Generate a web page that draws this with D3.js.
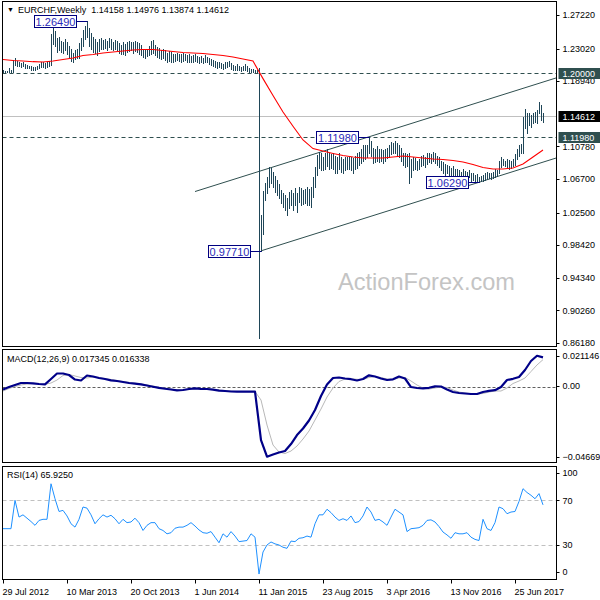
<!DOCTYPE html>
<html>
<head>
<meta charset="utf-8">
<script src="https://cdnjs.cloudflare.com/ajax/libs/d3/7.8.5/d3.min.js"></script>
<style>
  body { margin: 0; background: #fff; }
  svg { display: block; }
  text { font-family: "Liberation Sans", Arial, sans-serif; font-size: 9px; fill: #000; }
</style>
</head>
<body>
<script>
'use strict';

// weekly bars, index 0 = week of 29 Jul 2012
const tickBars = [0, 32, 64, 96, 128, 160, 192, 224, 256];
const tickLabels = ["29 Jul 2012", "10 Mar 2013", "20 Oct 2013", "1 Jun 2014", "11 Jan 2015",
  "23 Aug 2015", "3 Apr 2016", "13 Nov 2016", "25 Jun 2017"];

const highs = [
  1.2030, 1.2020, 1.2025, 1.2060, 1.2030, 1.2160, 1.2180, 1.2150, 1.2140, 1.2120,
  1.2130, 1.2110, 1.2100, 1.2090, 1.2080, 1.2070, 1.2075, 1.2090, 1.2110, 1.2135,
  1.2130, 1.2120, 1.2140, 1.2150, 1.2480, 1.2570, 1.2520, 1.2440, 1.2450, 1.2400,
  1.2380, 1.2420, 1.2390, 1.2330, 1.2300, 1.2250, 1.2290, 1.2300, 1.2370, 1.2440,
  1.2540, 1.2590, 1.2649, 1.2560, 1.2500, 1.2450, 1.2420, 1.2380, 1.2420, 1.2430,
  1.2410, 1.2420, 1.2400, 1.2430, 1.2420, 1.2390, 1.2410, 1.2400, 1.2370, 1.2350,
  1.2380, 1.2360, 1.2390, 1.2400, 1.2390, 1.2380, 1.2400, 1.2390, 1.2370, 1.2350,
  1.2300, 1.2280, 1.2300, 1.2330, 1.2400, 1.2410, 1.2350, 1.2320, 1.2310, 1.2290,
  1.2300, 1.2280, 1.2250, 1.2270, 1.2260, 1.2240, 1.2230, 1.2250, 1.2240, 1.2230,
  1.2250, 1.2240, 1.2220, 1.2230, 1.2210, 1.2220, 1.2230, 1.2210, 1.2200, 1.2210,
  1.2190, 1.2220, 1.2200, 1.2180, 1.2170, 1.2160, 1.2150, 1.2140, 1.2130, 1.2120,
  1.2110, 1.2130, 1.2140, 1.2150, 1.2120, 1.2100, 1.2090, 1.2110, 1.2080, 1.2070,
  1.2090, 1.2110, 1.2080, 1.2060, 1.2050, 1.2045, 1.2040, 1.2035, 1.2060, 1.0220,
  1.0520, 1.0620, 1.0700, 1.0826, 1.0810, 1.0760, 1.0710, 1.0660, 1.0610, 1.0530,
  1.0495, 1.0470, 1.0430, 1.0510, 1.0530, 1.0495, 1.0560, 1.0495, 1.0570, 1.0555,
  1.0530, 1.0550, 1.0570, 1.0545, 1.0570, 1.0700, 1.0820, 1.0970, 1.1010, 1.0995,
  1.0950, 1.0990, 1.1040, 1.1000, 1.0980, 1.1000, 1.0960, 1.0950, 1.0990, 1.0940,
  1.0920, 1.0950, 1.0940, 1.0960, 1.0940, 1.0930, 1.0960, 1.0990, 1.1010, 1.1040,
  1.1100, 1.1090, 1.1100, 1.1198, 1.1150, 1.1060, 1.1050, 1.1080, 1.1050, 1.1040,
  1.1030, 1.1040, 1.1060, 1.1090, 1.1130, 1.1120, 1.1140, 1.1120, 1.1100, 1.1060,
  1.1000, 1.0990, 1.0980, 1.1000, 1.0920, 1.0950, 1.0930, 1.0900, 1.0920, 1.0960,
  1.0970, 1.0950, 1.0990, 1.1000, 1.0980, 1.1010, 1.0990, 1.0960, 1.0940, 1.0900,
  1.0880, 1.0860, 1.0850, 1.0830, 1.0810, 1.0830, 1.0800, 1.0790, 1.0780, 1.0760,
  1.0790, 1.0770, 1.0760, 1.0780, 1.0750, 1.0740, 1.0720, 1.0730, 1.0700, 1.0710,
  1.0720, 1.0740, 1.0760, 1.0750, 1.0740, 1.0760, 1.0800, 1.0780, 1.0900, 1.0940,
  1.0920, 1.0900, 1.0920, 1.0910, 1.0890, 1.0920, 1.0980, 1.1050, 1.1100, 1.1110,
  1.1450, 1.1550, 1.1500, 1.1496, 1.1471, 1.1496, 1.1508, 1.1533, 1.1637, 1.1596, 1.1498
];

const lows = [
  1.2006, 1.2006, 1.2008, 1.2010, 1.2008, 1.2010, 1.2100, 1.2080, 1.2090, 1.2070,
  1.2080, 1.2065, 1.2060, 1.2055, 1.2040, 1.2035, 1.2040, 1.2050, 1.2060, 1.2070,
  1.2075, 1.2065, 1.2075, 1.2085, 1.2100, 1.2360, 1.2330, 1.2260, 1.2280, 1.2260,
  1.2250, 1.2280, 1.2240, 1.2200, 1.2150, 1.2130, 1.2170, 1.2180, 1.2180, 1.2280,
  1.2330, 1.2420, 1.2450, 1.2340, 1.2300, 1.2260, 1.2250, 1.2220, 1.2270, 1.2300,
  1.2300, 1.2310, 1.2290, 1.2320, 1.2300, 1.2290, 1.2300, 1.2280, 1.2250, 1.2230,
  1.2240, 1.2220, 1.2260, 1.2270, 1.2280, 1.2250, 1.2270, 1.2260, 1.2240, 1.2220,
  1.2200, 1.2190, 1.2210, 1.2220, 1.2240, 1.2250, 1.2220, 1.2200, 1.2190, 1.2170,
  1.2180, 1.2160, 1.2140, 1.2150, 1.2140, 1.2140, 1.2150, 1.2160, 1.2150, 1.2140,
  1.2150, 1.2160, 1.2140, 1.2130, 1.2130, 1.2140, 1.2150, 1.2130, 1.2120, 1.2130,
  1.2120, 1.2140, 1.2130, 1.2110, 1.2100, 1.2090, 1.2070, 1.2060, 1.2070, 1.2060,
  1.2050, 1.2060, 1.2070, 1.2080, 1.2050, 1.2040, 1.2030, 1.2040, 1.2030, 1.2020,
  1.2030, 1.2040, 1.2020, 1.2012, 1.2010, 1.2008, 1.2006, 1.2005, 0.8680, 0.9771,
  0.9980, 1.0410, 1.0500, 1.0570, 1.0620, 1.0570, 1.0510, 1.0470, 1.0430, 1.0370,
  1.0320, 1.0280, 1.0220, 1.0310, 1.0345, 1.0280, 1.0345, 1.0255, 1.0380, 1.0345,
  1.0355, 1.0370, 1.0340, 1.0350, 1.0320, 1.0445, 1.0570, 1.0720, 1.0810, 1.0785,
  1.0785, 1.0800, 1.0830, 1.0790, 1.0810, 1.0790, 1.0740, 1.0750, 1.0790, 1.0760,
  1.0740, 1.0780, 1.0790, 1.0800, 1.0780, 1.0750, 1.0790, 1.0810, 1.0850, 1.0870,
  1.0900, 1.0920, 1.0950, 1.0990, 1.0960, 1.0870, 1.0880, 1.0900, 1.0880, 1.0900,
  1.0870, 1.0900, 1.0930, 1.0950, 1.0980, 1.1000, 1.0990, 1.0960, 1.0940, 1.0900,
  1.0840, 1.0820, 1.0830, 1.0625, 1.0700, 1.0780, 1.0800, 1.0780, 1.0800, 1.0830,
  1.0850, 1.0820, 1.0860, 1.0880, 1.0870, 1.0890, 1.0870, 1.0840, 1.0820, 1.0780,
  1.0740, 1.0720, 1.0740, 1.0710, 1.0700, 1.0720, 1.0680, 1.0650, 1.0680, 1.0700,
  1.0690, 1.0660, 1.0670, 1.0700, 1.0650, 1.0660, 1.0650, 1.0640, 1.0629, 1.0640,
  1.0650, 1.0660, 1.0670, 1.0680, 1.0670, 1.0680, 1.0700, 1.0710, 1.0740, 1.0820,
  1.0840, 1.0830, 1.0810, 1.0800, 1.0810, 1.0830, 1.0840, 1.0920, 1.0960, 1.0990,
  1.0990, 1.1310, 1.1250, 1.1346, 1.1321, 1.1371, 1.1383, 1.1371, 1.1496, 1.1408, 1.1387
];

// red moving average, read every 5 bars
const maStep = 5;
const maValues = [
  1.2165, 1.2153, 1.2147, 1.2138, 1.2134, 1.2146, 1.2165, 1.2184, 1.2215, 1.2228,
  1.2247, 1.2259, 1.2272, 1.2284, 1.2290, 1.2290, 1.2278, 1.2265, 1.2253, 1.2247,
  1.2240, 1.2228, 1.2215, 1.2197, 1.2172, 1.2146, 1.1926, 1.1714, 1.1508, 1.1330,
  1.1158, 1.1051, 1.1020, 1.0989, 1.0964, 1.0945, 1.0933, 1.0933, 1.0933, 1.0945,
  1.0958, 1.0945, 1.0933, 1.0920, 1.0914, 1.0902, 1.0883, 1.0852, 1.0814, 1.0795,
  1.0795, 1.0808, 1.0858, 1.0945, 1.1033
];

// MACD(12,26,9), read every 3 bars
const macdStep = 3;
const macdValues = [
  -0.00157, 0.00011, 0.00146, 0.0028, 0.0028, 0.0026, 0.00213, 0.00193, 0.00549, 0.00919,
  0.00919, 0.00818, 0.00515, 0.00448, 0.00784, 0.00717, 0.00616, 0.00549, 0.00462, 0.00415,
  0.00347, 0.0028, 0.00233, 0.00186, 0.00112, 0.00031, -0.00042, -0.00103, -0.00157, -0.0021,
  -0.0019, -0.00123, -0.00076, -0.0011, -0.00123, -0.00163, -0.0023, -0.00257, -0.00291, -0.00304,
  -0.00304, -0.00298, -0.00291, -0.0355, -0.04672, -0.04525, -0.0439, -0.04289, -0.03819, -0.03214,
  -0.02777, -0.0224, -0.01534, -0.00593, 0.0018, 0.00616, 0.0065, 0.00583, 0.00536, 0.00448,
  0.00549, 0.00798, 0.00717, 0.00583, 0.00482, 0.00529, 0.00717, 0.00583, 0.00011, -0.00056,
  -0.00076, -0.00042, 0.00058, 0.00045, -0.00157, -0.00325, -0.00392, -0.00426, -0.00459, -0.00459,
  -0.00325, -0.00244, -0.00204, 0.00011, 0.00482, 0.00562, 0.00683, 0.01154, 0.01759, 0.0211,
  0.0200
];
const signalValues = [
  -0.00257, -0.00089, 0.00045, 0.00146, 0.00213, 0.00247, 0.00213, 0.00193, 0.0028, 0.00482,
  0.00784, 0.00852, 0.00751, 0.0065, 0.00616, 0.00683, 0.0065, 0.00583, 0.00515, 0.00448,
  0.00381, 0.00314, 0.0026, 0.00213, 0.00146, 0.00079, -0.00002, -0.00069, -0.00123, -0.00177,
  -0.0019, -0.00157, -0.0011, -0.00103, -0.00116, -0.00143, -0.0019, -0.0023, -0.00264, -0.00291,
  -0.00304, -0.00304, -0.00298, -0.00862, -0.02542, -0.03886, -0.04356, -0.04457, -0.04289, -0.03953,
  -0.03483, -0.02945, -0.02206, -0.01467, -0.0066, -0.00056, 0.00381, 0.00549, 0.00569, 0.00529,
  0.00515, 0.0065, 0.00717, 0.0065, 0.00549, 0.00515, 0.00616, 0.0065, 0.00415, 0.00146,
  -0.00056, -0.00123, -0.00056, 0.00011, -0.00022, -0.0019, -0.00325, -0.00392, -0.00439, -0.00459,
  -0.00426, -0.00325, -0.00257, -0.00257, -0.00056, 0.00247, 0.00415, 0.00616, 0.01053, 0.0149,
  0.0185
];

// RSI(14), read every 2 bars
const rsiStep = 2;
const rsiValues = [
  44.6, 44.6, 44.6, 70, 55, 57, 54, 51, 47.6, 52,
  53, 53, 84.8, 71.4, 60, 61, 56, 49, 46, 53,
  64, 63, 57, 49, 53.5, 57, 55, 56.6, 53.5, 49,
  53, 50, 50.6, 54, 50, 43, 47.6, 50, 50, 44.6,
  43, 40, 41, 45, 46, 46, 47.6, 50, 47, 43.5,
  41, 40.5, 42, 37, 32, 40, 37, 42, 38, 33,
  33.5, 34, 40, 37, 4, 23.7, 30, 32.7, 31, 30,
  28, 27, 33.5, 33, 36, 36.5, 38, 37, 49, 57,
  57, 62, 59, 55, 52, 53.5, 52, 56, 50, 51,
  56, 64, 59.5, 52, 53, 50.6, 47.6, 55, 62, 59.5,
  57, 42, 44.6, 45, 45.5, 47.6, 52, 52.5, 50.6, 46.5,
  41.6, 39, 36, 41, 40, 40, 41, 37, 35, 34,
  53, 44.6, 43, 50, 64, 62.5, 58, 59.5, 60, 69,
  80.4, 77, 74.5, 71.4, 76, 65.925
];

const priceTicks = [1.2722, 1.2302, 1.1894, 1.1078, 1.0670, 1.0250, 0.9842, 0.9434, 0.9026, 0.8618];
const levelPrices = [1.2000, 1.1198];
const lastPrice = 1.14612;
const noteBars = [42, 129, 183, 238];
const notePrices = [1.2649, 0.9771, 1.1198, 1.0629];
const channelBars = [129, 238];
const channelPrices = [0.9771, 1.0629];
const upperBar = 183, upperPrice = 1.1198, upperStart = 96;
const macdTicks = [0.021146, 0, -0.046699];
const rsiTicks = [100, 70, 30, 0];
const rsiLevels = [70, 30];

(function() {

  const W = 600, H = 600;
  const left = 2.5, right = 556.5;
  const main = {top: 1.5, bottom: 346.5};
  const macdBox = {top: 349.5, bottom: 462.5};
  const rsiBox = {top: 466.5, bottom: 579.5};
  const slate = "#2f4f4f";

  let svg = d3.select("body").append("svg")
    .attr("width", W)
    .attr("height", H);

  // scales
  let x = d3.scaleLinear().domain([0, 276.5]).range([3, 556]);
  let y = d3.scaleLinear().domain([0.8618, 1.2722]).range([343, 15]);
  let yMacd = d3.scaleLinear().domain([-0.046699, 0.021146]).range([456.7, 355.7]);
  let yRsi = d3.scaleLinear().domain([0, 100]).range([578.5, 466.8]);

  // clip paths for each panel
  let defs = svg.append("defs");
  [["clipMain", main], ["clipMacd", macdBox], ["clipRsi", rsiBox]].forEach(function(c) {
    defs.append("clipPath").attr("id", c[0])
      .append("rect")
        .attr("x", left).attr("y", c[1].top)
        .attr("width", right - left).attr("height", c[1].bottom - c[1].top);
  });

  // watermark
  svg.append("text")
    .attr("x", 338)
    .attr("y", 290)
    .style("font-size", "23.6px")
    .style("fill", "#c4c4c4")
    .text("ActionForex.com");

  let gMain = svg.append("g").attr("clip-path", "url(#clipMain)");

  // horizontal levels
  gMain.append("line")
    .attr("x1", left).attr("x2", right)
    .attr("y1", Math.round(y(lastPrice)) + 0.5).attr("y2", Math.round(y(lastPrice)) + 0.5)
    .attr("stroke", "#c0c0c0");

  gMain.selectAll("line.level")
    .data(levelPrices)
    .enter()
    .append("line")
      .attr("class", "level")
      .attr("x1", left).attr("x2", right)
      .attr("y1", (d) => Math.round(y(d)) + 0.5)
      .attr("y2", (d) => Math.round(y(d)) + 0.5)
      .attr("stroke", slate)
      .attr("stroke-dasharray", "4,3");

  // channel lines
  let slope = (channelPrices[1] - channelPrices[0]) / (channelBars[1] - channelBars[0]);
  let endBar = x.domain()[1];
  gMain.append("line")
    .attr("x1", x(channelBars[0])).attr("y1", y(channelPrices[0]))
    .attr("x2", x(endBar)).attr("y2", y(channelPrices[0] + slope * (endBar - channelBars[0])))
    .attr("stroke", slate);
  gMain.append("line")
    .attr("x1", x(upperStart)).attr("y1", y(upperPrice + slope * (upperStart - upperBar)))
    .attr("x2", x(endBar)).attr("y2", y(upperPrice + slope * (endBar - upperBar)))
    .attr("stroke", slate);

  // price bars
  gMain.selectAll("line.bar")
    .data(highs)
    .enter()
    .append("line")
      .attr("class", "bar")
      .attr("x1", (d, i) => x(i) + 0.5)
      .attr("x2", (d, i) => x(i) + 0.5)
      .attr("y1", (d) => Math.round(y(d)))
      .attr("y2", (d, i) => Math.max(Math.round(y(lows[i])) + 1, Math.round(y(d)) + 2))
      .attr("stroke", "#1f4658")
      .attr("shape-rendering", "crispEdges");

  // moving average
  let maLine = d3.line()
    .x((d, i) => x(i * maStep))
    .y((d) => y(d));
  gMain.append("path")
    .datum(maValues)
    .attr("d", maLine)
    .attr("fill", "none")
    .attr("stroke", "#ff0000")
    .attr("stroke-width", 1.1);

  // price notes
  let notes = gMain.selectAll("g.note")
    .data(notePrices)
    .enter()
    .append("g")
      .attr("class", "note");
  notes.append("line")
    .attr("x1", (d, i) => x(noteBars[i]) - 10)
    .attr("x2", (d, i) => x(noteBars[i]) + 0.5)
    .attr("y1", (d) => Math.round(y(d)) + 0.5)
    .attr("y2", (d) => Math.round(y(d)) + 0.5)
    .attr("stroke", "#000080");
  notes.append("rect")
    .attr("x", (d, i) => Math.round(x(noteBars[i])) - 52.5)
    .attr("y", (d) => Math.round(y(d)) - 5.5)
    .attr("width", 42)
    .attr("height", 12)
    .attr("fill", "#fff")
    .attr("stroke", "#000080");
  notes.append("text")
    .attr("x", (d, i) => Math.round(x(noteBars[i])) - 31.5)
    .attr("y", (d) => Math.round(y(d)) + 4.5)
    .attr("text-anchor", "middle")
    .style("font-size", "11px")
    .style("fill", "#2a2ab8")
    .text((d) => d3.format(".5f")(d));

  // MACD panel
  let gMacd = svg.append("g").attr("clip-path", "url(#clipMacd)");
  gMacd.append("line")
    .attr("x1", left).attr("x2", right)
    .attr("y1", Math.round(yMacd(0)) + 0.5).attr("y2", Math.round(yMacd(0)) + 0.5)
    .attr("stroke", "#606060")
    .attr("stroke-dasharray", "3,2");
  gMacd.append("path")
    .datum(signalValues)
    .attr("d", d3.line().x((d, i) => x(i * macdStep)).y((d) => yMacd(d)))
    .attr("fill", "none")
    .attr("stroke", "#b8b8b8")
    .attr("stroke-width", 1);
  gMacd.append("path")
    .datum(macdValues)
    .attr("d", d3.line().x((d, i) => x(i * macdStep)).y((d) => yMacd(d)))
    .attr("fill", "none")
    .attr("stroke", "#000088")
    .attr("stroke-width", 2.2)
    .attr("stroke-linejoin", "round");

  // RSI panel
  let gRsi = svg.append("g").attr("clip-path", "url(#clipRsi)");
  gRsi.selectAll("line.lvl")
    .data(rsiLevels)
    .enter()
    .append("line")
      .attr("class", "lvl")
      .attr("x1", left).attr("x2", right)
      .attr("y1", (d) => Math.round(yRsi(d)) + 0.5)
      .attr("y2", (d) => Math.round(yRsi(d)) + 0.5)
      .attr("stroke", "#c0c0c0")
      .attr("stroke-dasharray", "4,3");
  gRsi.append("path")
    .datum(rsiValues)
    .attr("d", d3.line().x((d, i) => x(i * rsiStep)).y((d) => yRsi(d)))
    .attr("fill", "none")
    .attr("stroke", "#1e90ff")
    .attr("stroke-width", 1);

  // frames
  [main, macdBox, rsiBox].forEach(function(p) {
    svg.append("rect")
      .attr("x", left).attr("y", p.top)
      .attr("width", right - left).attr("height", p.bottom - p.top)
      .attr("fill", "none")
      .attr("stroke", "#000");
  });

  // right axis, main
  let axisX = right + 1;
  function rightLabel(yy, label) {
    svg.append("line")
      .attr("x1", right).attr("x2", right + 3)
      .attr("y1", Math.round(yy) + 0.5).attr("y2", Math.round(yy) + 0.5)
      .attr("stroke", "#000");
    svg.append("text")
      .attr("x", axisX + 5)
      .attr("y", yy + 3.3)
      .text(label);
  }
  priceTicks.forEach((p) => rightLabel(y(p), d3.format(".5f")(p)));

  function boxLabel(p, fill) {
    let yy = Math.round(y(p));
    svg.append("rect")
      .attr("x", right + 2).attr("y", yy - 5)
      .attr("width", 44).attr("height", 11)
      .attr("fill", fill);
    svg.append("text")
      .attr("x", axisX + 5)
      .attr("y", yy + 3.8)
      .style("fill", "#fff")
      .text(d3.format(".5f")(p));
  }
  levelPrices.forEach((p) => boxLabel(p, slate));
  boxLabel(lastPrice, "#000");

  // right axis, MACD
  macdTicks.forEach((v) => rightLabel(yMacd(v) - (v === 0 ? 1.5 : 0), v === 0 ? "0.00" : d3.format(".6f")(v)));

  // right axis, RSI
  rsiTicks.forEach(function(v) {
    let yy = Math.min(Math.max(yRsi(v), 473), 572);
    rightLabel(yy, v);
  });

  // time axis
  tickBars.forEach(function(b, k) {
    svg.append("line")
      .attr("x1", Math.round(x(b)) + 0.5).attr("x2", Math.round(x(b)) + 0.5)
      .attr("y1", rsiBox.bottom).attr("y2", rsiBox.bottom + 4)
      .attr("stroke", "#000");
    svg.append("text")
      .attr("x", x(b) - 0.5)
      .attr("y", 595)
      .text(tickLabels[k]);
  });

  // headers
  svg.append("text")
    .attr("x", 7).attr("y", 12)
    .style("font-size", "7px")
    .text("\u25BC");
  svg.append("text")
    .attr("x", 18).attr("y", 13)
    .attr("xml:space", "preserve")
    .text("EURCHF,Weekly  1.14158 1.14976 1.13874 1.14612");
  svg.append("text")
    .attr("x", 7).attr("y", 362)
    .text("MACD(12,26,9) 0.017345 0.016338");
  svg.append("text")
    .attr("x", 7).attr("y", 478)
    .text("RSI(14) " + d3.format(".4f")(rsiValues[rsiValues.length - 1]));

})();
</script>
</body>
</html>
